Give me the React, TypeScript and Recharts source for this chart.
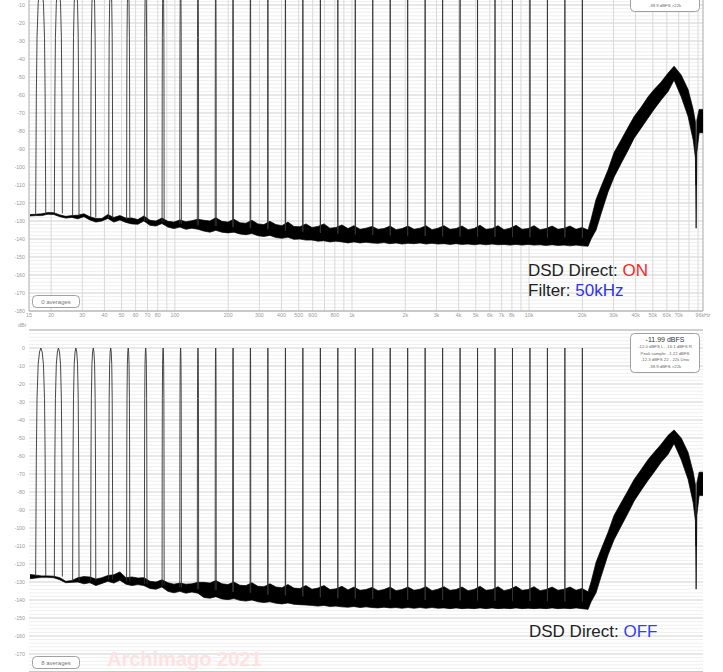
import React from 'react';
import { ComposedChart, Area, Line, XAxis, YAxis, CartesianGrid } from 'recharts';

// ---------- axes ----------
const xTickValues = [15, 20, 30, 40, 50, 60, 70, 80, 100, 200, 300, 400, 500, 600, 800, 1000, 2000, 3000, 4000, 5000, 6000, 7000, 8000, 10000, 20000, 30000, 40000, 50000, 60000, 70000, 96000];
const xTickLabels = ['15', '20', '30', '40', '50', '60', '70', '80', '100', '200', '300', '400', '500', '600', '800', '1k', '2k', '3k', '4k', '5k', '6k', '7k', '8k', '10k', '20k', '30k', '40k', '50k', '60k', '70k', '96kHz'];
const xGridValues = [20, 30, 40, 50, 60, 70, 80, 90, 100, 200, 300, 400, 500, 600, 700, 800, 900, 1000, 2000, 3000, 4000, 5000, 6000, 7000, 8000, 9000, 10000, 20000, 30000, 40000, 50000, 60000, 70000, 80000, 90000];
const yGridValues = [0, -10, -20, -30, -40, -50, -60, -70, -80, -90, -100, -110, -120, -130, -140, -150, -160, -170, -180];
// tick labels that fall inside the visible part of each panel
const yTicksTop = [-10, -20, -30, -40, -50, -60, -70, -80, -90, -100, -110, -120, -130, -140, -150, -160, -170, -180];
const yTicksBottom = [0, -10, -20, -30, -40, -50, -60, -70, -80, -90, -100, -110, -120, -130, -140, -150, -160, -170];
const yMinorValues = Array.from({ length: 96 }, (_, i) => 10 - i * 2);

// ---------- multitone frequencies (Hz) ----------
const toneFreqs = [17.5, 22.0, 27.6, 34.6, 43.4, 54.5, 68.4, 85.8, 107.7, 135, 170, 213, 267, 335, 421, 528, 663, 832, 1044, 1310, 1644, 2063, 2589, 3250, 4078, 5118, 6423, 8061, 10117, 12697, 15935, 20000];
const tonePeakTop = [0, 0, 0, 0, 0, 0, 0, 0, 0, 0, 0, 0, 0, 0, 0, 0, 0, 0, 0, 0, 0, 0, 0, 0, 0, 0, 0, 0, 0, 0, 0, 0];
const tonePeakBottom = [0, 0, 0, 0, 0, 0, 0, 0, 0, 0, 0, 0, 0, 0, 0, 0, 0, 0, 0, 0, 0, 0, 0, 0, 0, 0, 0, 0, 0, 0, 0, 0];
const toneBaseTop = [-126.6, -125.8, -127.4, -128, -128.4, -129, -130, -130.6, -131.6, -132.4, -132.8, -133.4, -134, -134.6, -135.4, -136, -136.6, -137, -137.4, -137.8, -138, -138.2, -138.4, -138.6, -138.6, -138.8, -138.8, -139, -139, -139.2, -139.2, -139.4];
const toneBaseBottom = [-126.8, -127, -129.6, -129.2, -128.6, -129.6, -131, -132, -133, -134, -134.5, -135.5, -136, -137, -137.5, -138, -138.5, -139, -139.2, -139.4, -139.6, -139.8, -140, -140, -140.2, -140.2, -140.4, -140.4, -140.6, -140.6, -140.8, -140.8];
// shape of one tone's spectral line: offset (Hz) and drop from the peak (dB); null = skirt base
const toneShapeHz = [-1.15, -1.0, -0.85, -0.6, -0.3, 0, 0.3, 0.6, 0.85, 1.0, 1.15];
const toneShapeDb: (number | null)[] = [null, -60, -28, -9, -2.2, 0, -2.2, -9, -28, -60, null];

// ---------- noise floor band ----------
const noiseFreqs = [15.2, 16.4, 17.7, 19.2, 20.7, 22.4, 24.2, 26.2, 28.3, 30.6, 33.1, 35.8, 38.7, 41.8, 45.2, 48.9, 52.9, 57.2, 61.8, 66.8, 72.3, 78.1, 84.5, 91.3, 98.7, 106.7, 115.4, 124.7, 134.9, 145.8, 157.6, 170.4, 184.3, 199.2, 215.4, 232.9, 251.8, 272.3, 294.3, 318.2, 344.1, 372, 402.2, 434.8, 470.1, 508.3, 549.5, 594.3, 642.5, 694.6, 751.1, 812, 877.9, 949.2, 1026, 1110, 1200, 1297, 1403, 1516, 1640, 1773, 1917, 2072, 2240, 2422, 2619, 2831, 3061, 3310, 3578, 3869, 4183, 4522, 4889, 5286, 5715, 6180, 6681, 7223, 7810, 8444, 9129, 9870, 10670, 11540, 12470, 13490, 14580, 15760, 17040, 18430, 19920, 21540, 22400, 23900, 25500, 27900, 30200, 33100, 36300, 39200, 43000, 47000, 50800, 55700, 61000, 65900, 72300, 79100, 84500, 87000, 87800, 88600, 91300, 96000];

const noiseLoTop = [-127.2, -127.0, -127.0, -126.2, -126.4, -127.6, -128.4, -128.0, -128.8, -127.6, -129.4, -130.6, -130.0, -128.6, -130.6, -129.4, -130.8, -131.6, -131.8, -130.0, -132.4, -132.8, -131.4, -133.4, -134.2, -133.4, -134.6, -134.0, -134.6, -135.6, -136.2, -135.2, -136.2, -136.6, -136.2, -137.2, -137.6, -137.0, -138.2, -138.6, -138.0, -139.2, -139.6, -139.0, -140.2, -140.0, -140.6, -140.6, -141.2, -141.0, -141.6, -141.2, -141.6, -142.2, -141.6, -142.2, -141.8, -142.2, -142.4, -142.0, -142.6, -142.2, -142.8, -142.4, -142.6, -142.2, -142.8, -142.4, -142.8, -142.6, -143.0, -142.6, -143.0, -142.8, -143.2, -142.8, -143.2, -142.8, -143.2, -143.0, -143.4, -143.0, -143.4, -143.0, -143.4, -143.2, -143.6, -143.2, -143.6, -143.4, -143.8, -143.4, -143.8, -144.0, -140.0, -135.0, -126.0, -114.0, -105.6, -98.0, -90.6, -84.0, -78.3, -72.8, -68.0, -62.8, -58.0, -51.7, -61.0, -72.0, -85.0, -95.0, -134.0, -92.0, -81.0, -81.0];
const noiseHiTop = [-126.4, -126.3, -126.0, -125.3, -125.4, -126.6, -127.4, -127.0, -126.8, -126.0, -127.6, -128.6, -128.6, -126.4, -128.0, -127.0, -128.4, -128.4, -129.2, -127.2, -129.6, -130.0, -128.4, -130.2, -130.6, -129.4, -130.4, -129.8, -129.0, -129.6, -130.0, -128.2, -130.2, -130.6, -129.0, -131.0, -131.2, -129.6, -131.6, -132.0, -130.2, -132.0, -132.6, -130.6, -133.0, -133.2, -131.6, -133.6, -133.0, -131.6, -134.0, -133.6, -132.2, -134.2, -132.6, -134.6, -134.0, -133.0, -134.6, -134.2, -132.8, -134.8, -134.2, -132.8, -134.6, -134.0, -132.6, -134.8, -134.0, -132.6, -134.6, -134.2, -132.8, -134.8, -134.2, -132.4, -134.6, -134.2, -132.6, -134.8, -134.0, -132.4, -134.6, -134.2, -132.6, -134.8, -134.2, -132.8, -134.6, -134.0, -132.8, -134.6, -133.6, -135.0, -129.0, -118.0, -111.0, -101.7, -92.0, -85.0, -77.8, -72.0, -66.7, -61.0, -57.0, -52.8, -47.8, -44.0, -48.9, -57.0, -68.0, -75.0, -110.0, -74.0, -68.0, -68.0];

const noiseLoBottom = [-128.2, -127.8, -127.4, -127.4, -127.6, -128.8, -130.4, -130.2, -130.0, -131.0, -130.4, -132.0, -130.8, -129.6, -130.6, -129.0, -131.2, -132.0, -131.4, -132.0, -133.6, -134.0, -132.8, -135.2, -136.0, -135.2, -136.2, -135.6, -136.2, -138.6, -139.0, -138.2, -139.4, -139.8, -139.2, -140.2, -140.6, -140.0, -141.0, -141.4, -141.0, -141.8, -142.2, -141.6, -142.4, -142.6, -142.8, -143.0, -143.4, -143.0, -143.6, -143.4, -143.8, -144.0, -143.6, -144.2, -143.8, -144.2, -144.4, -144.0, -144.4, -144.2, -144.6, -144.2, -144.6, -144.2, -144.6, -144.2, -144.6, -144.4, -144.8, -144.4, -144.8, -144.6, -144.8, -144.4, -144.8, -144.4, -144.8, -144.6, -144.8, -144.4, -144.8, -144.6, -144.8, -144.6, -144.8, -144.4, -144.8, -144.6, -144.8, -144.4, -144.8, -145.2, -141.0, -136.0, -127.0, -115.0, -106.5, -99.0, -91.5, -85.0, -79.0, -73.5, -69.0, -63.5, -59.0, -53.0, -62.0, -73.0, -86.0, -96.0, -134.0, -93.0, -82.0, -82.0];
const noiseHiBottom = [-125.8, -126.2, -126.6, -126.6, -126.8, -127.6, -129.6, -129.2, -127.6, -127.0, -127.2, -128.4, -127.6, -126.4, -126.0, -124.4, -127.6, -127.2, -127.8, -127.6, -129.6, -130.0, -128.8, -130.4, -131.2, -130.6, -131.2, -131.0, -130.2, -130.2, -130.6, -129.2, -131.0, -131.4, -130.0, -131.8, -132.0, -130.4, -132.4, -132.6, -131.0, -132.8, -133.2, -131.4, -133.4, -133.6, -132.0, -134.0, -133.4, -132.0, -134.2, -133.8, -132.4, -134.4, -132.8, -134.6, -134.2, -133.0, -134.8, -134.2, -132.8, -134.8, -134.2, -132.8, -134.6, -134.0, -132.6, -134.8, -134.0, -132.6, -134.6, -134.2, -132.8, -134.8, -134.2, -132.4, -134.6, -134.2, -132.6, -134.8, -134.0, -132.4, -134.6, -134.2, -132.6, -134.8, -134.2, -132.8, -134.6, -134.0, -132.8, -134.6, -133.6, -135.4, -130.0, -119.0, -112.0, -102.5, -93.0, -86.0, -79.0, -73.0, -67.5, -62.0, -58.0, -53.5, -48.5, -45.5, -50.0, -58.0, -69.0, -76.0, -110.0, -75.0, -69.0, -69.0];

// ---------- info box text ----------
const infoTitle = '-11.99 dBFS';
const infoLines = ['-12.0 dBFS L, -16.1 dBFS R', 'Peak sample: -1.22 dBFS', '-12.3 dBFS 22 - 22k Unw', '-38.9 dBFS >22k'];

const FONT = '"Liberation Sans", Arial, Helvetica, sans-serif';
const tickStyle = { fontSize: 5.3, fill: '#9a9a9a', fontFamily: FONT };

type PanelProps = { top: number; lo: number[]; hi: number[]; base: number[]; peak: number[]; yTicks: number[]; showX: boolean };

function Panel({ top, lo, hi, base, peak, yTicks, showX }: PanelProps) {
  const bandData = noiseFreqs.map((f, i) => ({ f, band: [lo[i], hi[i]] }));
  const toneData: { f: number; v: number | null }[] = [];
  toneFreqs.forEach((f, i) => {
    toneShapeHz.forEach((df, k) => {
      const d = toneShapeDb[k];
      toneData.push({ f: f + df, v: d === null ? base[i] : peak[i] + d });
    });
    toneData.push({ f: f + 1.3, v: null });
  });
  return (
    <div style={{ position: 'absolute', left: 0, top, width: 723, height: 367 }}>
      <ComposedChart width={723} height={367} data={bandData} margin={{ top: 10, right: 20, bottom: 0, left: 0 }}>
        <CartesianGrid horizontalValues={yMinorValues} vertical={false} stroke="#efefef" />
        <CartesianGrid horizontalValues={yGridValues} verticalValues={xGridValues} stroke="#d9d9d9" />
        <CartesianGrid horizontalValues={[10, -180]} verticalValues={[15, 96000]} stroke="#aaaaaa" />
        <XAxis
          dataKey="f"
          type="number"
          scale="log"
          domain={[15, 96000]}
          allowDataOverflow
          ticks={xTickValues}
          interval={0}
          tickFormatter={(v: number) => xTickLabels[xTickValues.indexOf(v)] ?? ''}
          height={15}
          tickSize={0}
          tickMargin={2}
          axisLine={false}
          tickLine={false}
          tick={showX ? tickStyle : false}
        />
        <YAxis
          type="number"
          domain={[-180, 10]}
          allowDataOverflow
          ticks={yTicks}
          interval={0}
          width={29}
          tickSize={0}
          tickMargin={4}
          axisLine={false}
          tickLine={false}
          tick={tickStyle}
        />
        <Area
          dataKey="band"
          type="linear"
          stroke="#000"
          strokeWidth={0.7}
          fill="#000"
          fillOpacity={1}
          dot={false}
          activeDot={false}
          isAnimationActive={false}
        />
        <Line
          data={toneData}
          dataKey="v"
          type="linear"
          stroke="#333"
          strokeWidth={0.9}
          dot={false}
          activeDot={false}
          connectNulls={false}
          isAnimationActive={false}
        />
      </ComposedChart>
    </div>
  );
}

// pt = pixel y of the panel's plot top; only texts that land inside the page are drawn
function PanelDecor({ pt, avg }: { pt: number; avg: string }) {
  const by = pt + 3;
  const visible = (y: number) => y - 6 >= 0 && y <= 672;
  return (
    <g>
      {visible(pt - 3) && (
        <text x={18} y={pt - 3} fontSize={5.3} fill="#9a9a9a" fontFamily={FONT}>dBr</text>
      )}
      <rect x={630.5} y={by + 0.5} width={69} height={39} rx={4} fill="#fff" stroke="#a0a0a0" strokeWidth={1} />
      {visible(by + 8.5) && (
        <text x={665} y={by + 8.5} fontSize={7} fill="#333" textAnchor="middle" fontFamily={FONT}>{infoTitle}</text>
      )}
      {infoLines.map((t, i) =>
        visible(by + 15 + i * 6.6) ? (
          <text key={i} x={665} y={by + 15 + i * 6.6} fontSize={4.3} fill="#666" textAnchor="middle" fontFamily={FONT}>{t}</text>
        ) : null
      )}
      <rect x={32.5} y={pt + 326.5} width={47} height={12} rx={4} fill="#fff" stroke="#a0a0a0" strokeWidth={1} />
      <text x={56} y={pt + 334.5} fontSize={6} fill="#777" textAnchor="middle" fontFamily={FONT}>{avg}</text>
    </g>
  );
}

export default function App() {
  return (
    <div style={{ position: 'absolute', left: 0, top: 0, width: 723, height: 672, overflow: 'hidden', background: '#fff' }}>
      <Panel top={-41} lo={noiseLoTop} hi={noiseHiTop} base={toneBaseTop} peak={tonePeakTop} yTicks={yTicksTop} showX={true} />
      <Panel top={320} lo={noiseLoBottom} hi={noiseHiBottom} base={toneBaseBottom} peak={tonePeakBottom} yTicks={yTicksBottom} showX={false} />
      <svg width={723} height={672} style={{ position: 'absolute', left: 0, top: 0, pointerEvents: 'none' }}>
        <PanelDecor pt={-31} avg="0 averages" />
        <PanelDecor pt={330} avg="8 averages" />
        <text x={107} y={666} fontSize={20} fontWeight="bold" fill="#fde2e2" fontFamily={FONT}>Archimago 2021</text>
        <text x={528} y={276} fontSize={17} fill="#222" fontFamily={FONT}>
          DSD Direct: <tspan fill="#ff2626">ON</tspan>
        </text>
        <text x={528} y={296} fontSize={17} fill="#222" fontFamily={FONT}>
          Filter: <tspan fill="#2f2fff">50kHz</tspan>
        </text>
        <text x={529} y={637} fontSize={17} fill="#222" fontFamily={FONT}>
          DSD Direct: <tspan fill="#2f3fff">OFF</tspan>
        </text>
      </svg>
    </div>
  );
}
